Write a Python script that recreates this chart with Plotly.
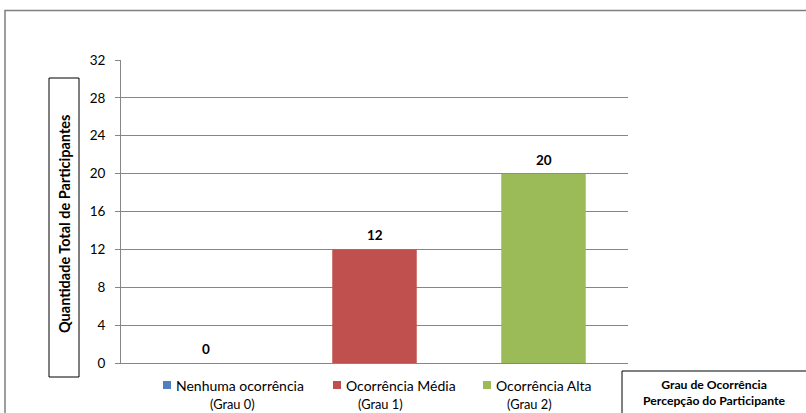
import plotly.graph_objects as go

# Data
categories = ["Nenhuma ocorrência", "Ocorrência Média", "Ocorrência Alta"]
grades = ["(Grau 0)", "(Grau 1)", "(Grau 2)"]
participants = [0, 12, 20]
colors = ["#4F81BD", "#C0504D", "#9BBB59"]
y_ticks = [0, 4, 8, 12, 16, 20, 24, 28, 32]

W, H = 806, 413
L, R, T, B = 121, 628, 60, 363  # plot area in pixels
FONT = "Lato, Open Sans, sans-serif"


def px(x):
    return (x - L) / (R - L)


def py(y):
    return (B - y) / (B - T)


fig = go.Figure()
fig.add_trace(go.Bar(
    x=categories,
    y=participants,
    marker=dict(color=colors, line=dict(width=0)),
    width=0.5,
    showlegend=False,
    hoverinfo="x+y",
))

shapes = [
    # outer chart border
    dict(type="rect", xref="paper", yref="paper",
         x0=px(5), x1=px(W + 20), y0=py(10.5), y1=py(H + 20),
         line=dict(color="#7F7F7F", width=1.5), layer="below"),
    # y-axis title box
    dict(type="rect", xref="paper", yref="paper",
         x0=px(49), x1=px(79), y0=py(78), y1=py(377),
         line=dict(color="#000000", width=1)),
    # x-axis title box
    dict(type="rect", xref="paper", yref="paper",
         x0=px(622), x1=px(W + 20), y0=py(371), y1=py(H + 20),
         line=dict(color="#000000", width=1)),
]

annotations = [
    dict(text="<b>Quantidade Total de Participantes</b>", xref="paper", yref="paper",
         x=px(64), y=py(224), textangle=-90, showarrow=False,
         font=dict(family=FONT, size=14.5, color="#000000"),
         xanchor="center", yanchor="middle"),
    dict(text="<b>Grau de Ocorrência</b><br><b>Percepção do Participante</b>",
         xref="paper", yref="paper", x=px(714), y=py(392), showarrow=False,
         font=dict(family=FONT, size=12.2, color="#000000"),
         xanchor="center", yanchor="middle", align="center"),
]

# value labels above each bar
for cat, val in zip(categories, participants):
    annotations.append(dict(text=f"<b>{val}</b>", xref="x", yref="y",
                            x=cat, y=val, yshift=14, showarrow=False,
                            xanchor="center", yanchor="middle",
                            font=dict(family=FONT, size=13.5, color="#000000")))

# legend: coloured square + name, grade underneath
legend_left = [163, 333, 483]
grade_center = [232, 380, 529]
for name, grade, col, x0, gx in zip(categories, grades, colors, legend_left, grade_center):
    shapes.append(dict(type="rect", xref="paper", yref="paper",
                       x0=px(x0), x1=px(x0 + 8), y0=py(381), y1=py(389),
                       fillcolor=col, line=dict(width=0)))
    annotations.append(dict(text=name, xref="paper", yref="paper",
                            x=px(x0 + 11), y=py(385), showarrow=False,
                            xanchor="left", yanchor="middle",
                            font=dict(family=FONT, size=14, color="#000000")))
    annotations.append(dict(text=grade, xref="paper", yref="paper",
                            x=px(gx), y=py(404), showarrow=False,
                            xanchor="center", yanchor="middle",
                            font=dict(family=FONT, size=12.8, color="#000000")))

fig.update_layout(
    width=W, height=H,
    margin=dict(l=L, r=W - R, t=T, b=H - B, pad=0),
    paper_bgcolor="#FFFFFF", plot_bgcolor="#FFFFFF",
    bargap=0.5,
    shapes=shapes,
    annotations=annotations,
    xaxis=dict(showticklabels=False, showgrid=False, ticks="",
               showline=True, linecolor="#868686", linewidth=1,
               fixedrange=True),
    yaxis=dict(range=[0, 32], tickvals=y_ticks, ticks="outside", ticklen=5,
               tickcolor="#868686", showline=True, linecolor="#868686",
               linewidth=1, gridcolor="#868686", gridwidth=1,
               zeroline=False, ticklabelstandoff=7,
               tickfont=dict(family=FONT, size=13.5, color="#000000"),
               fixedrange=True),
    font=dict(family=FONT),
)

fig.write_html("out.html")
